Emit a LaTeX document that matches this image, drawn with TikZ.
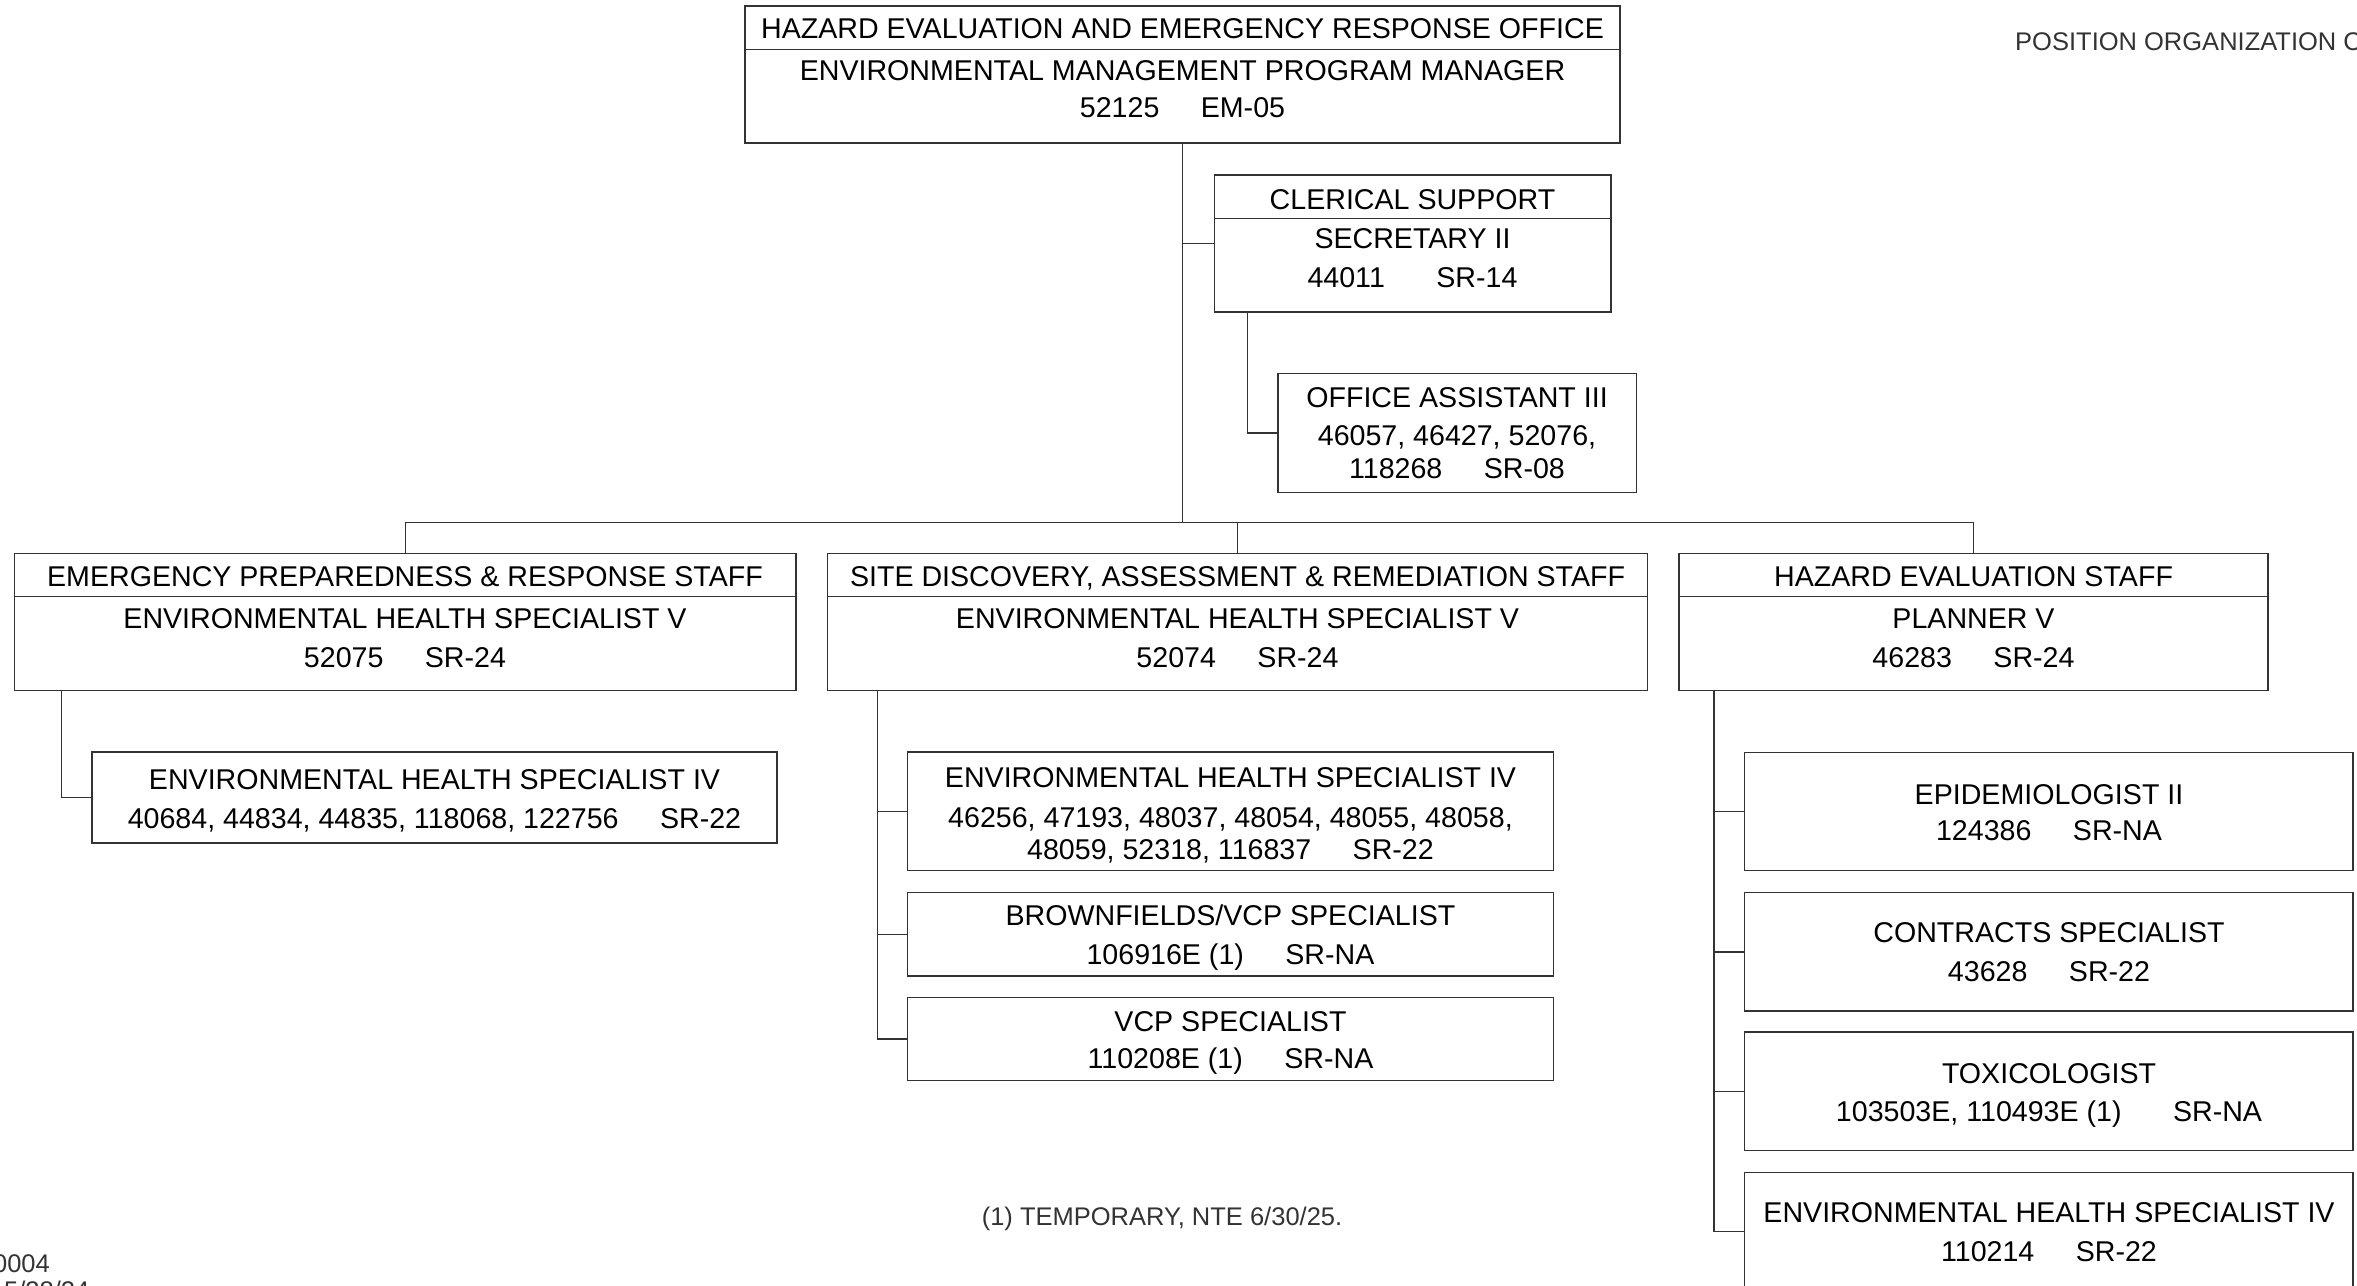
\documentclass[tikz,border=0pt]{standalone}
\usepackage{fontspec}
\setmainfont{Liberation Sans}
\definecolor{lnc}{HTML}{333333}
\definecolor{ntc}{HTML}{333333}
\tikzset{
  obox/.style={draw=lnc, line width=1.5pt, rectangle, inner sep=0pt, outer sep=0pt},
  conn/.style={draw=lnc, line width=1.5pt},
  tx/.style={anchor=base, inner sep=0pt, text=black, font=\fontsize{28.6}{34}\selectfont},
  note/.style={inner sep=0pt, text=ntc, font=\fontsize{25.5}{30}\selectfont},
}
\newcommand\obx[5]{\node[obox, minimum width=#4-#2, minimum height=#5-#3, anchor=north west] (#1) at (#2,#3) {};}
\newcommand\gap{\hspace{1.45em}}
\begin{document}
\begin{tikzpicture}[x=1pt,y=-1pt]
\useasboundingbox (0,0) rectangle (2357,1285);
% ---- boxes
\obx{hq}{745}{6}{1620}{143}
\obx{cl}{1214.5}{175}{1611}{312}
\obx{oa}{1278}{373.3}{1636.5}{492.3}
\obx{ep}{14.5}{553.5}{796}{690.5}
\obx{sd}{827.5}{553.5}{1647.5}{690.5}
\obx{hs}{1679}{553.5}{2268}{690.5}
\obx{epa}{92}{752}{777}{843}
\obx{sda}{907.5}{752}{1553.5}{870.5}
\obx{sdb}{907.5}{892.5}{1553.5}{976}
\obx{sdc}{907.5}{997.5}{1553.5}{1080.5}
\obx{hsa}{1744.5}{752.5}{2353}{870.5}
\obx{hsb}{1744.5}{892.5}{2353}{1011}
\obx{hsc}{1744.5}{1032}{2353}{1150.5}
\obx{hsd}{1744.5}{1172.5}{2353}{1290}
% ---- dividers
\draw[conn] (hq.west |- 0,49.5) -- (hq.east |- 0,49.5);
\draw[conn] (cl.west |- 0,218.5) -- (cl.east |- 0,218.5);
\draw[conn] (ep.west |- 0,596.7) -- (ep.east |- 0,596.7);
\draw[conn] (sd.west |- 0,596.7) -- (sd.east |- 0,596.7);
\draw[conn] (hs.west |- 0,596.7) -- (hs.east |- 0,596.7);
% ---- connectors
\coordinate (bus) at (1182.5,522.7);
\draw[conn] (hq.south) -- (bus);
\draw[conn] (hq.south |- cl.west) -- (cl.west);
\draw[conn] ([xshift=33pt]cl.south west) |- (oa.west);
\draw[conn] (ep.north) -- (ep.north |- bus) -- (hs.north |- bus) -- (hs.north);
\draw[conn] (sd.north) -- (sd.north |- bus);
\draw[conn] ([xshift=47.2pt]ep.south west) |- (epa.west);
\coordinate (sdl) at ([xshift=50pt]sd.south west);
\draw[conn] (sdl) |- (sdc.west);
\draw[conn] (sdl |- sda.west) -- (sda.west);
\draw[conn] (sdl |- sdb.west) -- (sdb.west);
\coordinate (hsl) at ([xshift=34.8pt]hs.south west);
\draw[conn] (hsl) |- (hsd.west);
\draw[conn] (hsl |- hsa.west) -- (hsa.west);
\draw[conn] (hsl |- hsb.west) -- (hsb.west);
\draw[conn] (hsl |- hsc.west) -- (hsc.west);
% ---- texts
\node[tx] (hq1) at (1182.5,38.8) {HAZARD EVALUATION AND EMERGENCY RESPONSE OFFICE};
\node[tx] (hq2) at (1182.5,80.8) {ENVIRONMENTAL MANAGEMENT PROGRAM MANAGER};
\node[tx] (hq3) at (1182.5,117) {52125\gap EM-05};
\node[tx] (cl1) at (1412.5,209) {CLERICAL SUPPORT};
\node[tx] (cl2) at (1412.5,248.3) {SECRETARY II};
\node[tx] (cl3) at (1412.5,287.3) {44011\hspace{1.8em}SR-14};
\node[tx] (oa1) at (1457,407.2) {OFFICE ASSISTANT III};
\node[tx] (oa2) at (1457,445.7) {46057, 46427, 52076,};
\node[tx] (oa3) at (1457,478.9) {118268\gap SR-08};
\node[tx] (ep1) at (405,586.9) {EMERGENCY PREPAREDNESS \& RESPONSE STAFF};
\node[tx] (ep2) at (405,628) {ENVIRONMENTAL HEALTH SPECIALIST V};
\node[tx] (ep3) at (405,667.7) {52075\gap SR-24};
\node[tx] (sd1) at (1237.5,586.9) {SITE DISCOVERY, ASSESSMENT \& REMEDIATION STAFF};
\node[tx] (sd2) at (1237.5,628) {ENVIRONMENTAL HEALTH SPECIALIST V};
\node[tx] (sd3) at (1237.5,667.7) {52074\gap SR-24};
\node[tx] (hs1) at (1973.5,586.9) {HAZARD EVALUATION STAFF};
\node[tx] (hs2) at (1973.5,628) {PLANNER V};
\node[tx] (hs3) at (1973.5,667.7) {46283\gap SR-24};
\node[tx] (epa1) at (434.5,789.9) {ENVIRONMENTAL HEALTH SPECIALIST IV};
\node[tx] (epa2) at (434.5,828) {40684, 44834, 44835, 118068, 122756\gap SR-22};
\node[tx] (sda1) at (1230.5,787.7) {ENVIRONMENTAL HEALTH SPECIALIST IV};
\node[tx] (sda2) at (1230.5,827.7) {46256, 47193, 48037, 48054, 48055, 48058,};
\node[tx] (sda3) at (1230.5,859.4) {48059, 52318, 116837\gap SR-22};
\node[tx] (sdb1) at (1230.5,925.2) {BROWNFIELDS/VCP SPECIALIST};
\node[tx] (sdb2) at (1230.5,964.4) {106916E (1)\gap SR-NA};
\node[tx] (sdc1) at (1230.5,1031) {VCP SPECIALIST};
\node[tx] (sdc2) at (1230.5,1068.5) {110208E (1)\gap SR-NA};
\node[tx] (hsa1) at (2049,804.1) {EPIDEMIOLOGIST II};
\node[tx] (hsa2) at (2049,840.8) {124386\gap SR-NA};
\node[tx] (hsb1) at (2049,942.7) {CONTRACTS SPECIALIST};
\node[tx] (hsb2) at (2049,981.7) {43628\gap SR-22};
\node[tx] (hsc1) at (2049,1083.1) {TOXICOLOGIST};
\node[tx] (hsc2) at (2049,1121.1) {103503E, 110493E (1)\hspace{1.8em}SR-NA};
\node[tx] (hsd1) at (2049,1222.1) {ENVIRONMENTAL HEALTH SPECIALIST IV};
\node[tx] (hsd2) at (2049,1261) {110214\gap SR-22};
% ---- notes
\node[note, anchor=base] (foot) at (1162,1225) {(1) TEMPORARY, NTE 6/30/25.};
\node[note, anchor=base west] (title) at (2015,50.7) {POSITION ORGANIZATION CHART};
\node[note, anchor=base east] (code) at (50,1272.7) {0004};
\node[note, anchor=base west] (date) at (4,1299.6) {5/28/24};
\end{tikzpicture}
\end{document}
